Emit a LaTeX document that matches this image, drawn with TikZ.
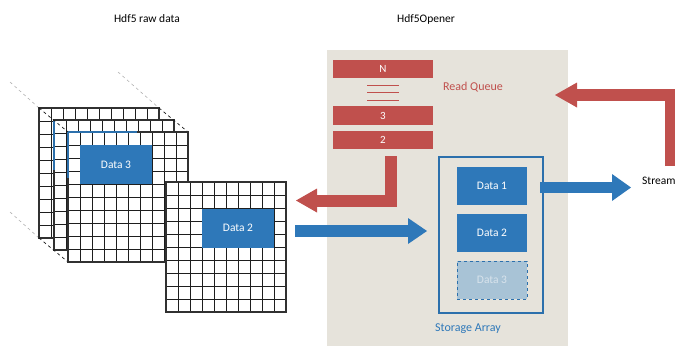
\documentclass[tikz,border=0pt]{standalone}
\usepackage{fontspec}
\setmainfont{Carlito}
\usetikzlibrary{arrows.meta}
\definecolor{qred}{HTML}{C0504D}
\definecolor{dblue}{HTML}{2E78B9}
\definecolor{panelc}{HTML}{E6E3DB}
\definecolor{sablue}{HTML}{2C70AC}
\definecolor{ghost}{HTML}{A8C3D6}
\definecolor{ghosttext}{HTML}{D8E3EC}
\definecolor{gridc}{HTML}{1E1E1E}
\newcommand\hdfgrid[2]{%
  \fill[white] (#1,#2) rectangle ++(120,130);
  \foreach \i in {0,...,10} \draw[gridline] ({#1+12*\i},#2) -- ++(0,130);
  \foreach \j in {0,...,10} \draw[gridline] (#1,{#2+13*\j}) -- ++(120,0);
  \draw[gridframe] (#1,#2) rectangle ++(120,130);
}
\tikzset{
  gridline/.style={draw=gridc, line width=0.75pt},
  gridframe/.style={draw=gridc!80!gray, line width=1.1pt},
  title/.style={font=\fontsize{11.5}{13}\selectfont, text=black, inner sep=0pt},
  datab/.style={fill=dblue, text=white, font=\fontsize{11.5}{13}\selectfont, minimum width=70pt, minimum height=38pt, inner sep=0pt},
  qbox/.style={fill=qred, text=white, font=\fontsize{11}{13}\selectfont, minimum width=100pt, minimum height=18pt, inner sep=0pt},
  barrow/.style={draw=dblue, line width=12pt},
  rarrow/.style={draw=qred, line width=12pt, line join=miter},
  persp/.style={draw=gray!60, dashed, line width=0.6pt},
  perspd/.style={draw=gray!20!black, dashed, line width=0.7pt},
}
\begin{document}
\begin{tikzpicture}[x=1pt,y=-1pt]
\useasboundingbox (0,0) rectangle (675,346);
\clip (0,0) rectangle (675,346);
% titles
\node[title] (t1) at (147,19) {Hdf5 raw data};
\node[title] (t2) at (426,19) {Hdf5Opener};
% panel
\fill[panelc] (327,50) rectangle (568,346);
% perspective lines (light)
\draw[persp] (10,82) -- (39,108);
\draw[persp] (118,72) -- (159,108);
\draw[persp] (10,212) -- (39,238);
% stacked grids
\hdfgrid{39}{108}
\hdfgrid{54}{120}
\draw[sablue, line width=1.6pt] (54,121) -- (54,170);
\draw[perspd] (39,108) -- (68,132);
\draw[perspd] (159,108) -- (188,132);
\draw[perspd] (39,238) -- (68,262);
\hdfgrid{68}{132}
\draw[sablue, line width=1.6pt] (68,132) -- (137,132);
\draw[sablue, line width=1.6pt] (68,132) -- (68,178);
\node[datab, minimum width=72pt, minimum height=39pt] (dg3) at (116,164.5) {Data 3};
% front grid
\hdfgrid{166}{182}
\node[datab, minimum width=72pt, minimum height=39pt] (dg2) at (238,228) {Data 2};
% read queue
\node[qbox] (qN) at (383,69) {N};
\node[qbox, minimum height=19pt] (q3) at (383,115.5) {3};
\node[qbox] (q2) at (383,140) {2};
\draw[qred, line width=0.6pt] (367,85) -- (399,85);
\draw[qred, line width=0.6pt] (367,92.5) -- (399,92.5);
\draw[qred, line width=0.6pt] (367,100) -- (399,100);
\node[text=qred, font=\fontsize{12}{14}\selectfont, inner sep=0pt] (rq) at (473,87) {Read Queue};
% storage array
\node[draw=sablue, line width=1.2pt, minimum width=104pt, minimum height=156pt, inner sep=0pt] (store) at (491,235) {};
\node[datab] (d1) at (492,186) {Data 1};
\node[datab] (d2) at (492,233) {Data 2};
\node[datab, fill=ghost, draw=sablue, dashed, line width=0.8pt, text=ghosttext] (d3) at (492,280) {Data 3};
\node[text=dblue, font=\fontsize{12}{14}\selectfont, inner sep=0pt] (sa) at (468,329) {Storage Array};
% stream
\node[anchor=west, font=\fontsize{11.5}{13}\selectfont, inner sep=0pt] (stream) at (642,181) {Stream};
% arrow coordinates
\coordinate (a1s) at (295,231);
\coordinate (a1e) at (427,231);
\coordinate (a2s) at (540,187.5);
\coordinate (a2e) at (631,187.5);
\coordinate (r1s) at (391,156);
\coordinate (r1c) at (391,200.5);
\coordinate (r1e) at (296,200.5);
\coordinate (r2s) at (671,166);
\coordinate (r2c) at (671,95);
\coordinate (r2e) at (555,95);
% arrows
\draw[barrow, -{Triangle[length=19pt,width=26pt,line width=0pt]}] (a1s) -- (a1e);
\draw[barrow, line width=11pt, -{Triangle[length=19pt,width=27pt,line width=0pt]}] (a2s) -- (a2e);
\draw[rarrow, -{Triangle[length=21pt,width=24pt,line width=0pt]}] (r1s) -- (r1c) -- (r1e);
\draw[rarrow, -{Triangle[length=22pt,width=25pt,line width=0pt]}] (r2s) -- (r2c) -- (r2e);
\end{tikzpicture}
\end{document}
